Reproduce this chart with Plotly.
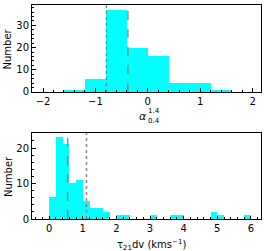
import plotly.graph_objects as go

# Top histogram: alpha_{0.4}^{1.4}
alpha_edges = [-1.6, -1.2, -0.8, -0.4, 0.0, 0.4, 0.8, 1.2, 1.6]
alpha_counts = [1, 6, 37, 20, 16, 4, 4, 1]
alpha_dotted = -0.79
alpha_dashed = -0.38

# Bottom histogram: tau_21 dv
tau_edges = [round(0.2 * i, 1) for i in range(31)]
tau_counts = [6, 23, 21, 10, 11, 5, 3, 3, 2, 0,
              1, 1, 0, 0, 0, 1, 0, 0, 1, 1,
              0, 0, 0, 0, 2, 1, 0, 0, 0, 1]
tau_dashed = 0.55
tau_dotted = 1.11

def centers(edges):
    return [(a + b) / 2 for a, b in zip(edges[:-1], edges[1:])]

def widths(edges):
    return [b - a for a, b in zip(edges[:-1], edges[1:])]

fig = go.Figure()
fig.add_trace(go.Bar(x=centers(alpha_edges), y=alpha_counts, width=widths(alpha_edges),
                     marker=dict(color="#00FFFF", line=dict(width=0)),
                     xaxis="x", yaxis="y", showlegend=False))
fig.add_trace(go.Bar(x=centers(tau_edges), y=tau_counts, width=widths(tau_edges),
                     marker=dict(color="#00FFFF", line=dict(width=0)),
                     xaxis="x2", yaxis="y2", showlegend=False))

line_grey = "rgba(128,128,128,0.9)"
shapes = [
    dict(type="line", xref="x", yref="y domain", x0=alpha_dotted, x1=alpha_dotted, y0=0, y1=1,
         line=dict(color=line_grey, width=1.5, dash="dot")),
    dict(type="line", xref="x", yref="y domain", x0=alpha_dashed, x1=alpha_dashed, y0=0, y1=1,
         line=dict(color=line_grey, width=1.5, dash="dash")),
    dict(type="line", xref="x2", yref="y2 domain", x0=tau_dashed, x1=tau_dashed, y0=0, y1=1,
         line=dict(color=line_grey, width=1.5, dash="dash")),
    dict(type="line", xref="x2", yref="y2 domain", x0=tau_dotted, x1=tau_dotted, y0=0, y1=1,
         line=dict(color=line_grey, width=1.5, dash="dot")),
]

font = dict(family="DejaVu Sans", size=10, color="black")
small = dict(family="DejaVu Sans", size=7, color="black")
axis_common = dict(showline=True, linecolor="black", linewidth=1, mirror=True,
                   ticks="inside", ticklen=3.5, tickwidth=1, tickcolor="black",
                   showgrid=False, zeroline=False, tickfont=font, automargin=False)

annotations = [
    dict(text="<i>α</i>", x=0.4847, y=0.4813, xref="paper", yref="paper",
         showarrow=False, font=dict(family="DejaVu Sans", size=11, color="black"),
         xanchor="center", yanchor="middle"),
    dict(text="1.4", x=0.499, y=0.505, xref="paper", yref="paper",
         showarrow=False, font=small, xanchor="left", yanchor="middle"),
    dict(text="0.4", x=0.499, y=0.46, xref="paper", yref="paper",
         showarrow=False, font=small, xanchor="left", yanchor="middle"),
    dict(text="τ<sub>21</sub>dv (kms<sup>−1</sup>)", x=0.52, y=-0.12, xref="paper", yref="paper",
         showarrow=False, font=font, xanchor="center", yanchor="middle"),
    dict(text="Number", x=-0.105, y=0.7967, xref="paper", yref="paper", textangle=-90,
         showarrow=False, font=font, xanchor="center", yanchor="middle"),
    dict(text="Number", x=-0.105, y=0.2009, xref="paper", yref="paper", textangle=-90,
         showarrow=False, font=font, xanchor="center", yanchor="middle"),
]

fig.update_layout(
    width=269, height=251,
    margin=dict(l=32, r=8, t=5, b=32, autoexpand=False),
    paper_bgcolor="white", plot_bgcolor="white",
    bargap=0, font=font, shapes=shapes, annotations=annotations,
    xaxis=dict(axis_common, domain=[0, 1], anchor="y", range=[-2.21, 2.16],
               tickvals=[-2, -1, 0, 1, 2],
               minor=dict(ticks="inside", ticklen=2, dtick=0.2, tickcolor="black")),
    yaxis=dict(axis_common, domain=[0.5935, 1.0], anchor="x", range=[0, 39.2],
               tickvals=[0, 10, 20, 30],
               minor=dict(ticks="inside", ticklen=2, dtick=2, tickcolor="black")),
    xaxis2=dict(axis_common, domain=[0, 1], anchor="y2", range=[-0.51, 6.3],
                tickvals=[0, 1, 2, 3, 4, 5, 6],
                minor=dict(ticks="inside", ticklen=2, dtick=0.2, tickcolor="black")),
    yaxis2=dict(axis_common, domain=[0, 0.4005], anchor="x2", range=[0, 24.15],
                tickvals=[0, 10, 20],
                minor=dict(ticks="inside", ticklen=2, dtick=2, tickcolor="black")),
)

fig.write_html("out.html", config={"displayModeBar": False},
               post_script="document.body.style.margin='0px';document.body.style.overflow='hidden';")
